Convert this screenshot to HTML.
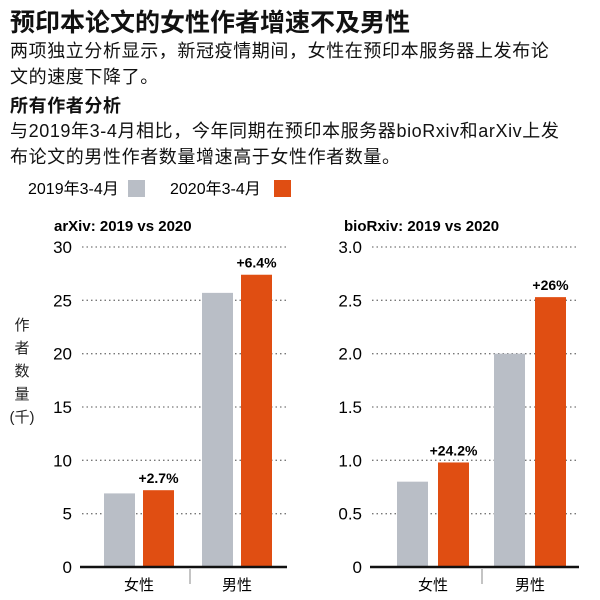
<!DOCTYPE html>
<html><head><meta charset="utf-8"><style>
body{margin:0;width:600px;height:600px;background:#fff;overflow:hidden;font-family:"Liberation Sans","Noto Sans CJK SC",sans-serif;color:#111}
.t{position:absolute;left:10px;white-space:nowrap}
</style></head><body>
<div class="t" style="top:3px;font-size:25px;font-weight:bold">预印本论文的女性作者增速不及男性</div>
<div class="t" style="top:38px;font-size:18px;line-height:26px;letter-spacing:0.6px">两项独立分析显示，新冠疫情期间，女性在预印本服务器上发布论<br>文的速度下降了。</div>
<div class="t" style="top:92px;font-size:18px;font-weight:bold;letter-spacing:0.6px">所有作者分析</div>
<div class="t" style="top:118px;font-size:18px;line-height:26px;letter-spacing:0.6px">与2019年3-4月相比，今年同期在预印本服务器bioRxiv和arXiv上发<br>布论文的男性作者数量增速高于女性作者数量。</div>
<svg width="600" height="600" style="position:absolute;left:0;top:0" font-family="Liberation Sans, Noto Sans CJK SC, sans-serif">
<g>
<text x="28" y="194" font-size="16">2019年3-4月</text>
<rect x="128" y="180" width="17" height="17" fill="#b9bec6"/>
<text x="170" y="194" font-size="16">2020年3-4月</text>
<rect x="274" y="180" width="17" height="17" fill="#e04e12"/>
</g>
<g font-size="15" text-anchor="middle" fill="#222">
<text x="22" y="330">作</text><text x="22" y="353">者</text><text x="22" y="376">数</text><text x="22" y="399">量</text><text x="22" y="422">(千)</text>
</g>
<g id="c1"></g><g id="c2"></g>
</svg>
<script>
const categories=["女性","男性"];
const arxiv2019=[6.9,25.7];
const arxiv2020=[7.2,27.4];
const arxivLabels=["+2.7%","+6.4%"];
const arxivTicks=[0,5,10,15,20,25,30];
const bio2019=[0.8,2.0];
const bio2020=[0.98,2.53];
const bioLabels=["+24.2%","+26%"];
const bioTicks=["0","0.5","1.0","1.5","2.0","2.5","3.0"];
const NS="http://www.w3.org/2000/svg";
function mk(p,t,a,txt){const e=document.createElementNS(NS,t);for(const k in a)e.setAttribute(k,a[k]);if(txt!=null)e.textContent=txt;p.appendChild(e);return e;}
function chart(g,cfg){
  const y=v=>567-v/cfg.max*320;
  const t=mk(g,'text',{x:cfg.x0-28,y:231,'font-size':15,'font-weight':'bold'},cfg.title);
  
  
  cfg.ticks.forEach(tk=>{
    const v=parseFloat(tk);
    if(v>0){const l=mk(g,'line',{x1:cfg.x0,x2:cfg.x1,y1:y(v),y2:y(v),stroke:'#777','stroke-width':1.3,'stroke-dasharray':'1.5 3'});
      
      }
    const tl=mk(g,'text',{x:cfg.x0-10,y:y(v)+6,'font-size':17,'text-anchor':'end'},tk);
    
    
  });
  categories.forEach((c,i)=>{
    const gx=cfg.bx[i];
    const b1=mk(g,'rect',{x:gx,y:y(cfg.a[i]),width:31,height:567-y(cfg.a[i]),fill:'#b9bec6'});
    
    
    const b2=mk(g,'rect',{x:gx+cfg.gap,y:y(cfg.b[i]),width:31,height:567-y(cfg.b[i]),fill:'#e04e12'});
    
    
    const vl=mk(g,'text',{x:gx+cfg.gap+15.5,y:y(cfg.b[i])-7,'font-size':14,'font-weight':'bold','text-anchor':'middle'},cfg.labels[i]);
    
    
    const cl=mk(g,'text',{x:gx+(cfg.gap+31)/2,y:590,'font-size':15,'text-anchor':'middle'},c);
    
    
  });
  const ax=mk(g,'line',{x1:cfg.x0-2,x2:cfg.x1,y1:567,y2:567,stroke:'#111','stroke-width':2.5});
  
  
  const dv=mk(g,'line',{x1:cfg.div,x2:cfg.div,y1:569,y2:584,stroke:'#888','stroke-width':1});
  
  
}
chart(document.getElementById('c1'),{x0:82,x1:287,max:30,ticks:arxivTicks.map(String),a:arxiv2019,b:arxiv2020,labels:arxivLabels,bx:[104,202],gap:39,div:190,title:"arXiv: 2019 vs 2020"});
chart(document.getElementById('c2'),{x0:372,x1:579,max:3,ticks:bioTicks,a:bio2019,b:bio2020,labels:bioLabels,bx:[397,494],gap:41,div:482,title:"bioRxiv: 2019 vs 2020"});
</script>
</body></html>
